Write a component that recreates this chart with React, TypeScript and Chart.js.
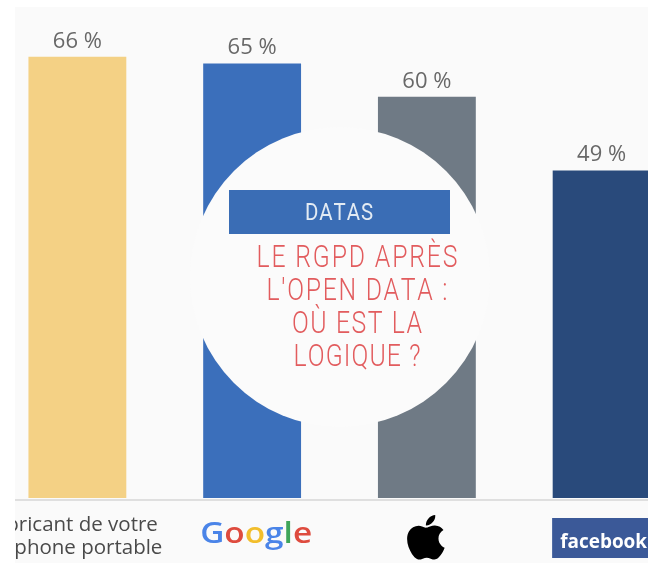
import React, { useEffect, useRef } from "react";
import { Chart, registerables } from "chart.js";

Chart.register(...registerables);

// ---- data ----
const categories = ["Fabricant de votre téléphone portable", "Google", "Apple", "Facebook"];
const categoryLines = [["Fabricant de votre", "téléphone portable"], ["Google"], [""], ["facebook"]];
const values = [66, 65, 60, 49];
const valueLabels = ["66 %", "65 %", "60 %", "49 %"];
const yMin = 0;
const yMax = 70;
const overlayTag = "DATAS";
const overlayTitle = ["LE RGPD APRÈS", "L'OPEN DATA :", "OÙ EST LA", "LOGIQUE ?"];

// ---- styles ----
const barColors = ["#F4D185", "#3B6FBB", "#6F7A85", "#294A7B"];
const googleColors = ["#4A84E8", "#DE4B3E", "#F2BE2C", "#4A84E8", "#3FA55A", "#DE4B3E"];
const APPLE_PATH =
  "M150.37 130.25c-2.45 5.66-5.35 10.87-8.71 15.66-4.58 6.53-8.33 11.05-11.22 13.56-4.48 4.12-9.28 6.23-14.42 6.35-3.69 0-8.140-1.05-13.32-3.18-5.197-2.12-9.973-3.17-14.34-3.17-4.58 0-9.492 1.05-14.746 3.170-5.262 2.13-9.501 3.24-12.742 3.35-4.929 0.21-9.842-1.96-14.746-6.52-3.13-2.73-7.045-7.41-11.735-14.04-5.032-7.08-9.169-15.29-12.41-24.65-3.471-10.11-5.211-19.9-5.211-29.378 0-10.857 2.346-20.221 7.045-28.068 3.693-6.303 8.606-11.275 14.755-14.925s12.793-5.51 19.948-5.629c3.915 0 9.049 1.211 15.429 3.591 6.362 2.388 10.447 3.599 12.238 3.599 1.339 0 5.877-1.416 13.57-4.239 7.275-2.618 13.415-3.702 18.445-3.275 13.63 1.1 23.870 6.473 30.68 16.153-12.19 7.386-18.22 17.731-18.1 31.002 0.11 10.337 3.86 18.939 11.23 25.769 3.34 3.17 7.07 5.62 11.22 7.36-0.9 2.61-1.85 5.11-2.86 7.51zm-31.26-123.01c0 8.1021-2.96 15.667-8.86 22.669-7.12 8.324-15.732 13.134-25.071 12.375-0.119-0.972-0.188-1.995-0.188-3.07 0-7.778 3.386-16.102 9.399-22.908 3.002-3.446 6.82-6.311 11.45-8.597 4.62-2.252 8.99-3.497 13.1-3.71 0.12 1.083 0.17 2.166 0.17 3.24z";

// image -> canvas offset
const OX = 45;
const OY = -7;

function drawSpaced(ctx: CanvasRenderingContext2D, text: string, centerX: number, baseline: number, targetW: number, sx: number) {
  const chars = Array.from(text);
  const widths = chars.map((c) => ctx.measureText(c).width * sx);
  const sum = widths.reduce((a, b) => a + b, 0);
  const gap = chars.length > 1 ? (targetW - sum) / (chars.length - 1) : 0;
  let x = centerX - targetW / 2;
  ctx.textAlign = "left";
  chars.forEach((c, i) => {
    ctx.save();
    ctx.translate(x, baseline);
    ctx.scale(sx, 1);
    ctx.fillText(c, 0, 0);
    ctx.restore();
    x += widths[i] + gap;
  });
}

function drawFit(ctx: CanvasRenderingContext2D, text: string, left: number, baseline: number, targetW: number, colors?: string[]) {
  const w = ctx.measureText(text).width;
  const sx = targetW / w;
  ctx.save();
  ctx.translate(left, baseline);
  ctx.scale(sx, 1);
  ctx.textAlign = "left";
  if (colors) {
    let x = 0;
    Array.from(text).forEach((c, i) => {
      ctx.fillStyle = colors[i % colors.length];
      ctx.fillText(c, x, 0);
      x += ctx.measureText(c).width;
    });
  } else {
    ctx.fillText(text, 0, 0);
  }
  ctx.restore();
}

const labelsPlugin = {
  id: "labelsPlugin",
  afterDatasetsDraw(chart: any) {
    const ctx: CanvasRenderingContext2D = chart.ctx;
    const meta = chart.getDatasetMeta(0);
    const yScale = chart.scales.y;
    const base = yScale.getPixelForValue(0);
    ctx.save();
    // axis line
    ctx.strokeStyle = "#d6d6d6";
    ctx.lineWidth = 1.5;
    ctx.beginPath();
    ctx.moveTo(0, base + 2);
    ctx.lineTo(chart.width, base + 2);
    ctx.stroke();

    // value labels
    ctx.fillStyle = "#686868";
    ctx.font = "22px 'Open Sans', sans-serif";
    ctx.textAlign = "center";
    ctx.textBaseline = "alphabetic";
    meta.data.forEach((bar: any, i: number) => {
      ctx.fillText(valueLabels[i], bar.x, bar.y - 9);
    });

    // category labels
    meta.data.forEach((bar: any, i: number) => {
      const x = bar.x;
      if (i === 0) {
        ctx.fillStyle = "#4a4a4a";
        ctx.font = "20.5px 'Open Sans', sans-serif";
        ctx.textAlign = "right";
        ctx.fillText(categoryLines[0][0], x + 80.5, base + 33);
        ctx.fillText(categoryLines[0][1], x + 85, base + 56);
      } else if (i === 1) {
        ctx.font = "600 28px 'Open Sans', sans-serif";
        drawFit(ctx, categoryLines[1][0], x + 4 - 56, base + 45, 112, googleColors);
      } else if (i === 2) {
        const s = 0.275;
        const p = new Path2D(APPLE_PATH);
        ctx.save();
        ctx.translate(x - 1 - 85 * s, base + 17 - 4 * s);
        ctx.scale(s, s);
        ctx.fillStyle = "#000000";
        ctx.fill(p);
        ctx.restore();
      } else if (i === 3) {
        ctx.fillStyle = "#3B5998";
        ctx.fillRect(x - 49.5, base + 20, 104, 40);
        ctx.fillStyle = "#ffffff";
        ctx.font = "700 20px 'Open Sans', sans-serif";
        drawFit(ctx, categoryLines[3][0], x - 41.5, base + 50, 87);
      }
    });
    ctx.restore();
  },
};

const overlayPlugin = {
  id: "overlayPlugin",
  afterDraw(chart: any) {
    const ctx: CanvasRenderingContext2D = chart.ctx;
    ctx.save();
    // circle
    ctx.fillStyle = "#fbfbfb";
    ctx.beginPath();
    ctx.arc(340 + OX, 277 + OY, 150, 0, Math.PI * 2);
    ctx.fill();
    // tag box
    ctx.fillStyle = "#3A6DB5";
    ctx.fillRect(229 + OX, 190 + OY, 221, 44);
    ctx.fillStyle = "#E3EBF3";
    ctx.font = "400 24px Roboto, sans-serif";
    drawSpaced(ctx, overlayTag, 339 + OX, 220 + OY, 68, 0.85);
    // title
    ctx.fillStyle = "#E25C5E";
    ctx.font = "300 31px Roboto, sans-serif";
    const baselines = [267, 300, 333, 366];
    const widths = [201, 181, 130, 127];
    overlayTitle.forEach((line, i) => {
      drawSpaced(ctx, line, 357 + OX, baselines[i] + OY, widths[i], 0.8);
    });
    ctx.restore();
  },
};

export default function App() {
  const ref = useRef<HTMLCanvasElement | null>(null);
  useEffect(() => {
    if (!ref.current) return;
    const chart = new Chart(ref.current, {
      type: "bar",
      data: {
        labels: categories,
        datasets: [
          {
            data: values,
            backgroundColor: barColors,
            borderWidth: 0,
            barPercentage: 0.56,
            categoryPercentage: 1,
          },
        ],
      },
      options: {
        animation: false,
        responsive: false,
        maintainAspectRatio: false,
        layout: { padding: { left: 35, right: 26, top: 23, bottom: 65 } },
        scales: {
          x: { display: false },
          y: { display: false, min: yMin, max: yMax },
        },
        plugins: { legend: { display: false }, tooltip: { enabled: false } },
      },
      plugins: [labelsPlugin, overlayPlugin],
    } as any);
    return () => chart.destroy();
  }, []);

  return (
    <div style={{ position: "fixed", left: 0, top: 0, width: 657, height: 563, background: "#ffffff", overflow: "hidden" }}>
      <div style={{ position: "absolute", left: 15, top: 7, width: 633, height: 556, background: "#fafafa", overflow: "hidden" }}>
        <canvas ref={ref} width={760} height={556} style={{ position: "absolute", left: -60, top: 0, width: 760, height: 556 }} />
      </div>
    </div>
  );
}
